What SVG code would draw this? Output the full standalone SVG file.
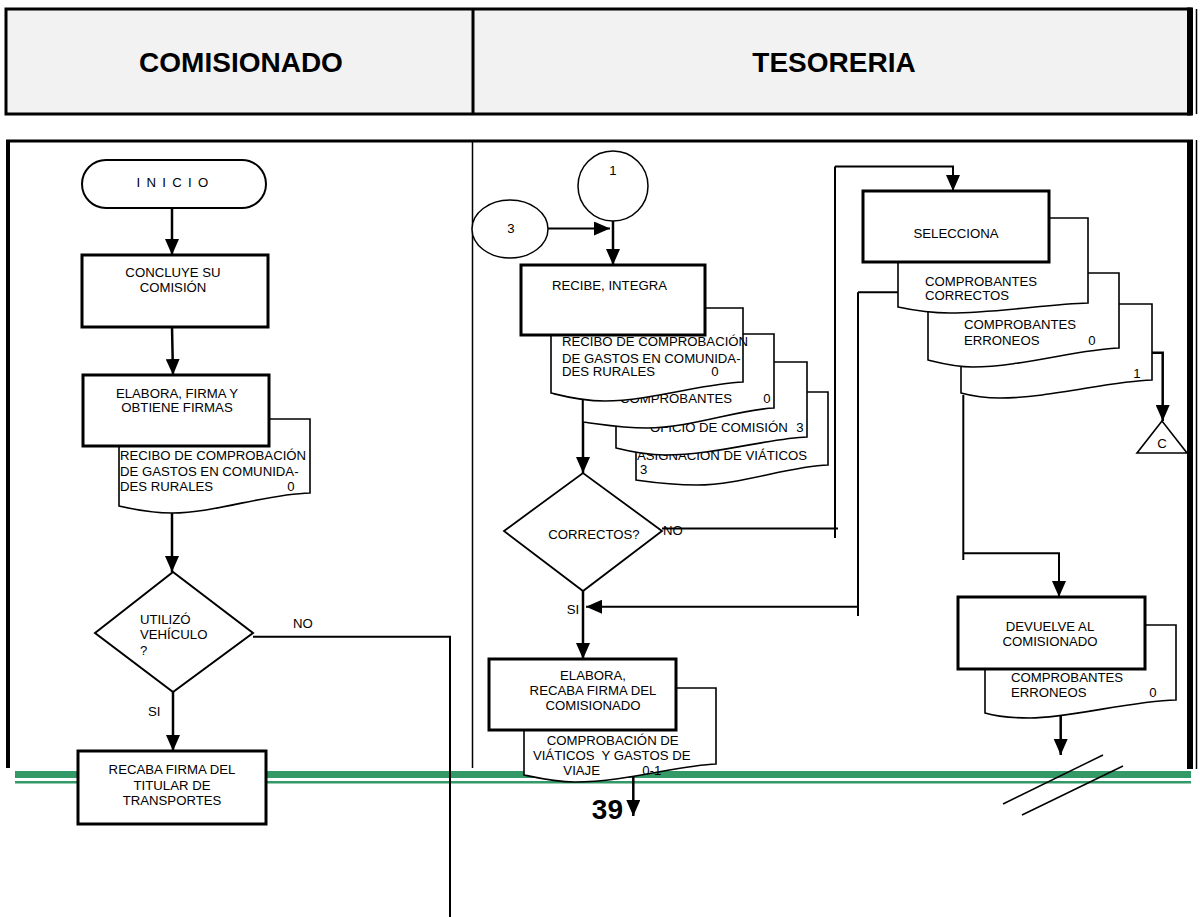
<svg xmlns="http://www.w3.org/2000/svg" width="1200" height="917" viewBox="0 0 1200 917">
<defs>
<marker id="ah" viewBox="0 0 16 14" refX="16" refY="7" markerWidth="16" markerHeight="14" markerUnits="userSpaceOnUse" orient="auto">
<path d="M0,0 L16,7 L0,14 Z" fill="#000"/>
</marker>
<style>
text{font-family:"Liberation Sans",Arial,sans-serif;font-size:13.2px;fill:#000}
.h{font-size:28px;font-weight:bold;text-anchor:middle}
.m{text-anchor:middle}
.box{fill:#fff;stroke:#000;stroke-width:3}
.doc{fill:#fff;stroke:#000;stroke-width:1.6}
.thin{fill:#fff;stroke:#000;stroke-width:1.6}
.c{fill:none;stroke:#000;stroke-width:2.5}
.c2{fill:none;stroke:#000;stroke-width:2}
.arr{marker-end:url(#ah)}
</style>
</defs>
<rect width="1200" height="917" fill="#fff"/>

<g id="header">
<rect x="6" y="9" width="1184" height="105" fill="#f2f2f2" stroke="#000" stroke-width="3"/>
<rect x="1187" y="7.5" width="6" height="108" fill="#000"/>
<line x1="1196.5" y1="9" x2="1196.5" y2="114" stroke="#000" stroke-width="1.5"/>
<line x1="473" y1="9" x2="473" y2="114" stroke="#000" stroke-width="3"/>
<text class="h" x="241" y="72">COMISIONADO</text>
<text class="h" x="834" y="72">TESORERIA</text>
</g>

<g id="frame">
<line x1="6" y1="141" x2="1193" y2="141" stroke="#000" stroke-width="3"/>
<line x1="8" y1="140" x2="8" y2="768" stroke="#000" stroke-width="4"/>
<line x1="472.5" y1="142" x2="472.5" y2="768" stroke="#000" stroke-width="1.5"/>
<rect x="1187" y="140" width="6" height="629" fill="#000"/>
<line x1="1196.5" y1="140" x2="1196.5" y2="769" stroke="#000" stroke-width="1.5"/>
<rect x="15" y="771" width="1176" height="7" fill="#339966"/>
<rect x="15" y="781" width="1176" height="2.5" fill="#339966"/>
</g>

<g id="connectors">
<line class="c arr" x1="172" y1="208" x2="172" y2="255"/>
<line class="c arr" x1="172" y1="327" x2="173" y2="375"/>
<line class="c arr" x1="172" y1="513" x2="172" y2="572"/>
<polyline class="c2" points="253,636.7 450,636.7 450,917"/>
<line class="c arr" x1="173" y1="692" x2="173" y2="751"/>

<line class="c2 arr" x1="548" y1="228.5" x2="610" y2="228.5"/>
<line class="c arr" x1="613" y1="221" x2="613" y2="265"/>
<line class="c arr" x1="583" y1="398" x2="583" y2="473"/>
<line class="c2" x1="662" y1="528.5" x2="838" y2="528.5"/>
<line class="c2" x1="835" y1="166.5" x2="835" y2="538"/>
<polyline class="c2 arr" points="835,166.5 953,166.5 953,191"/>
<line class="c2" x1="858" y1="292.3" x2="858" y2="616"/>
<line class="c2" x1="898" y1="292.3" x2="858" y2="292.3"/>
<line class="c2 arr" x1="858" y1="606.7" x2="586" y2="606.7"/>
<line class="c arr" x1="583" y1="591" x2="583" y2="659"/>
<line class="c arr" x1="633.3" y1="773" x2="633.3" y2="816"/>

<polyline class="c arr" points="1152,352.7 1162.7,352.7 1162.7,421"/>
<line class="c2" x1="963.3" y1="395" x2="963.3" y2="560"/>
<polyline class="c2 arr" points="963.3,553.3 1059,553.3 1059,597"/>
<line class="c arr" x1="1060.7" y1="710" x2="1060.7" y2="755"/>
<line x1="1003" y1="804" x2="1103" y2="755" stroke="#000" stroke-width="1.5"/>
<line x1="1022" y1="815" x2="1123" y2="766" stroke="#000" stroke-width="1.5"/>
</g>

<g id="inicio">
<rect x="82" y="160" width="184" height="48" rx="24" fill="#fff" stroke="#000" stroke-width="2"/>
<text class="m" x="173" y="187" style="letter-spacing:1.3px">I N I C I O</text>
</g>

<g id="concluye">
<rect class="box" x="82" y="255" width="186" height="72"/>
<text class="m" x="173" y="277">CONCLUYE SU</text>
<text class="m" x="173" y="292">COMISIÓN</text>
</g>

<g id="elabora-firma">
<path class="doc" d="M119,419 H310 V493 C265,494 215,513 172,513 C150,513 132,509 119,506 Z"/>
<text x="120" y="459.5">RECIBO DE COMPROBACIÓN</text>
<text x="120" y="476">DE GASTOS EN COMUNIDA-</text>
<text x="120" y="491">DES RURALES</text>
<text class="m" x="291" y="491">0</text>
<rect class="box" x="83" y="375" width="186" height="71"/>
<text class="m" x="177" y="398">ELABORA, FIRMA Y</text>
<text class="m" x="177" y="412">OBTIENE FIRMAS</text>
</g>

<g id="utilizo">
<polygon points="95,633 173,572 253,633 173,692" fill="#fff" stroke="#000" stroke-width="2"/>
<text x="140" y="623.5">UTILIZÓ</text>
<text x="140" y="639">VEHÍCULO</text>
<text x="140" y="655">?</text>
<text x="293" y="628">NO</text>
<text x="148" y="715.5">SI</text>
</g>

<g id="recaba-titular">
<rect class="box" x="78" y="751" width="188" height="73"/>
<text class="m" x="172" y="774">RECABA FIRMA DEL</text>
<text class="m" x="172" y="789.5">TITULAR DE</text>
<text class="m" x="172" y="804.5">TRANSPORTES</text>
</g>

<g id="conector-1">
<circle cx="613" cy="186" r="35" fill="#fff" stroke="#000" stroke-width="1.5"/>
<text class="m" x="613" y="175">1</text>
</g>

<g id="conector-3">
<ellipse cx="510" cy="229" rx="38" ry="29" fill="#fff" stroke="#000" stroke-width="1.5"/>
<text class="m" x="511" y="233">3</text>
</g>

<g id="recibe-integra">
<path class="doc" d="M636,392 H828 V465 C790,466 740,485 697,485 C670,485 650,482 636,480 Z"/>
<text x="637" y="459.5">ASIGNACIÓN DE VIÁTICOS</text>
<text x="640" y="473.5">3</text>
<path class="doc" d="M616,362 H807 V437 C770,438 715,455 665,455 C645,455 628,451 616,448 Z"/>
<text x="650" y="431.5">OFICIO DE COMISIÓN</text>
<text class="m" x="800" y="431.5">3</text>
<path class="doc" d="M583,334 H774 V408 C740,409 690,428 647,428 C620,428 600,424 583,422 Z"/>
<text x="620" y="403">COMPROBANTES</text>
<text class="m" x="767" y="403">0</text>
<path class="doc" d="M551,308 H743 V382 C705,383 650,401 605,401 C580,401 563,396 551,393 Z"/>
<text x="562" y="346">RECIBO DE COMPROBACIÓN</text>
<text x="562" y="362.5">DE GASTOS EN COMUNIDA-</text>
<text x="562" y="376">DES RURALES</text>
<text class="m" x="715" y="376">0</text>
<rect class="box" x="521" y="265" width="184" height="70"/>
<text x="552" y="289.5">RECIBE, INTEGRA</text>
</g>

<g id="correctos">
<polygon points="504,531 583,473 662,531 583,591" fill="#fff" stroke="#000" stroke-width="1.8"/>
<text class="m" x="594" y="538.5">CORRECTOS?</text>
<text x="663" y="534.5">NO</text>
<text class="m" x="573" y="613.5">SI</text>
</g>

<g id="elabora-recaba">
<path class="doc" d="M524,688 H716 V764 C680,765 625,782 575,782 C555,782 538,778 524,775 Z"/>
<text class="m" x="612.7" y="744.5">COMPROBACIÓN DE</text>
<text class="m" x="611.7" y="759.5" xml:space="preserve">VIÁTICOS  Y GASTOS DE</text>
<text class="m" x="581.7" y="775">VIAJE</text>
<text class="m" x="651.7" y="775">0-1</text>
<rect class="box" x="489" y="659" width="187" height="71"/>
<text class="m" x="593" y="679.5">ELABORA,</text>
<text class="m" x="593" y="694.5">RECABA FIRMA DEL</text>
<text class="m" x="593" y="709.5">COMISIONADO</text>
</g>

<g id="pagina">
<text x="623" y="819" style="font-size:28px;font-weight:bold;text-anchor:end">39</text>
</g>

<g id="selecciona">
<path class="doc" d="M961,304 H1152 V380 C1110,381 1050,398 1000,398 C985,398 972,396 961,393 Z"/>
<text class="m" x="1137" y="378">1</text>
<path class="doc" d="M928,273 H1119 V348 C1080,349 1020,367 973,367 C955,367 940,363 928,360 Z"/>
<text x="964" y="329">COMPROBANTES</text>
<text x="964" y="345">ERRONEOS</text>
<text class="m" x="1092" y="345">0</text>
<path class="doc" d="M898,218 H1088 V303 C1050,304 995,313 950,313 C930,313 912,310 898,307 Z"/>
<text x="925" y="285.5">COMPROBANTES</text>
<text x="925" y="299.5">CORRECTOS</text>
<rect class="box" x="863" y="191" width="186" height="71"/>
<text class="m" x="956" y="238">SELECCIONA</text>
</g>

<g id="conector-c">
<polygon points="1162,421 1137,453 1187,453" fill="#fff" stroke="#000" stroke-width="1.6"/>
<text class="m" x="1162" y="447.5">C</text>
</g>

<g id="devuelve">
<path class="doc" d="M985,625 H1176 V700 C1130,701 1070,718 1030,718 C1010,718 995,716 985,713 Z"/>
<text x="1011" y="682">COMPROBANTES</text>
<text x="1011" y="697">ERRONEOS</text>
<text class="m" x="1153" y="697">0</text>
<rect class="box" x="958" y="597" width="187" height="72"/>
<text class="m" x="1050" y="631">DEVUELVE AL</text>
<text class="m" x="1050" y="646">COMISIONADO</text>
</g>
</svg>
